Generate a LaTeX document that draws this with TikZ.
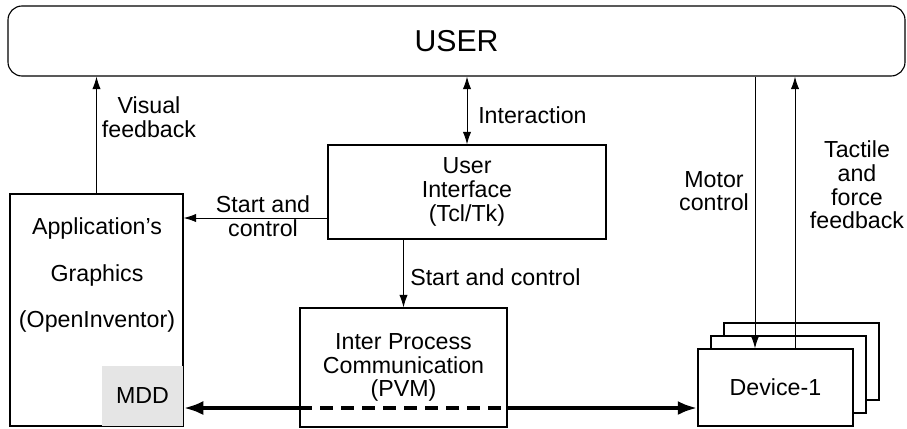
\documentclass[tikz,border=0pt]{standalone}
\usepackage{fontspec}
\setmainfont{Liberation Sans}
\usetikzlibrary{arrows.meta}
\newdimen\unitpx
\unitpx=0.025cm
\tikzset{
    block/.style={draw, rectangle, line width=0.8pt, align=center, inner sep=0pt, font=\fontsize{16.5}{16.8}\selectfont},
    flowlabel/.style={align=center, inner sep=0pt, font=\fontsize{16.5}{16.8}\selectfont},
    link/.style={line width=0.7pt, -{Latex[length=9pt, width=6pt]}},
    buslink/.style={line width=2.8pt}
}
\begin{document}
\begin{tikzpicture}[x=0.025cm, y=-0.025cm]
            \useasboundingbox (0,0) rectangle (907,428);
            % boxes
            \node[block, rounded corners=14\unitpx, minimum width=897\unitpx, minimum height=70\unitpx,
                  font=\fontsize{21.5}{24}\selectfont] (user) at (456.5,41) {USER};
            \node[block, minimum width=278\unitpx, minimum height=94\unitpx] (ui) at (467,192) {User\\Interface\\(Tcl/Tk)};
            \node[block, minimum width=173\unitpx, minimum height=232\unitpx] (app) at (96.5,310) {};
            \node[flowlabel, font=\fontsize{16.5}{33.4}\selectfont] (apptext) at (97,275) {Application's\\Graphics\\(OpenInventor)};
            \node[block, draw=none, fill=black!10, minimum width=81\unitpx, minimum height=60\unitpx] (mdd) at (142.5,395.5) {MDD};
            \node[block, minimum width=207\unitpx, minimum height=119\unitpx] (ipc) at (403.5,367.5) {Inter Process\\Communication\\(PVM)};
            \node[block, fill=white, minimum width=155\unitpx, minimum height=77\unitpx] (dev3) at (801.5,361.5) {};
            \node[block, fill=white, minimum width=155\unitpx, minimum height=77\unitpx] (dev2) at (788.5,374.5) {};
            \node[block, fill=white, minimum width=155\unitpx, minimum height=77\unitpx] (dev1) at (775.5,387.5) {Device-1};

            % helper coordinates
            \coordinate (scy) at (0,218);
            \coordinate (mx) at (755,0);
            \coordinate (tx) at (795,0);
            \coordinate (bus) at (0,408);

            % connectors
            \draw[link] (app.north) -- (app.north |- user.south);
            \draw[link, {Latex[length=9pt, width=6pt]}-{Latex[length=9pt, width=6pt]}] (ui.north) -- (ui.north |- user.south);
            \draw[link] (ui.west |- scy) -- (app.east |- scy);
            \draw[link] (ui.south -| ipc.north) -- (ipc.north);
            \draw[link] (user.south -| mx) -- (dev1.north -| mx);
            \draw[link] (dev1.north -| tx) -- (user.south -| tx);
            \draw[buslink, {Latex[length=14pt, width=10pt]}-] (app.east |- bus) -- (ipc.west |- bus);
            \draw[buslink, dash pattern=on 13\unitpx off 8\unitpx] (ipc.west |- bus) -- (ipc.east |- bus);
            \draw[buslink, -{Latex[length=14pt, width=10pt]}] (ipc.east |- bus) -- (dev1.west |- bus);

            % labels
            \node[flowlabel] (lvisual) at (149,117) {Visual\\feedback};
            \node[flowlabel, anchor=west] (linter) at (478,115) {Interaction};
            \node[flowlabel] (lstart1) at (263,216) {Start and\\control};
            \node[flowlabel, anchor=west] (lstart2) at (410,277) {Start and control};
            \node[flowlabel] (lmotor) at (714,191) {Motor\\control};
            \node[flowlabel] (ltactile) at (857,185) {Tactile\\{}and\\force\\feedback};
        \end{tikzpicture}
\end{document}
